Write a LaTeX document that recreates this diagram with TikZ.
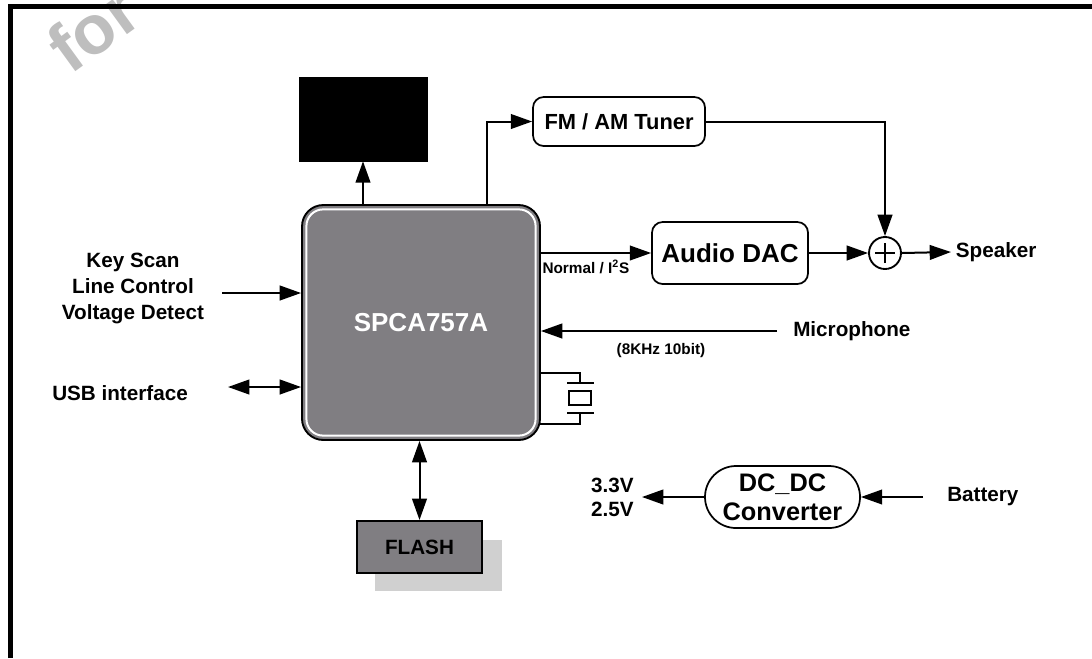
\documentclass[tikz,border=0pt]{standalone}
\usepackage{fontspec}
\setmainfont{Liberation Sans}
\usetikzlibrary{arrows.meta,shapes.misc,shapes.geometric}
\definecolor{chipgray}{RGB}{128,126,130}
\definecolor{shadowgray}{RGB}{208,208,208}
\definecolor{wmgray}{RGB}{190,190,190}
\begin{document}
\begin{tikzpicture}[x=0.75pt,y=-0.75pt,
  tip/.tip={Triangle[length=16pt,width=11pt]},
  arr/.style={line width=1.5pt,-tip},
  darr/.style={line width=1.5pt,tip-tip},
  lbl/.style={font=\bfseries\fontsize{15.5}{19.5}\selectfont, inner sep=0pt},
  small/.style={font=\bfseries\fontsize{11.5}{13}\selectfont, inner sep=0pt},
  rbox/.style={draw, line width=1.3pt, rounded corners=8pt, fill=white}
]
\useasboundingbox (0,0) rectangle (1092,658);
\clip (0,0) rectangle (1092,658);

% watermark
\node[rotate=36, anchor=base west, text=wmgray, inner sep=0pt,
      font=\bfseries\fontsize{52}{52}\selectfont] (wm) at (70,76) {for};

% frame
\draw[line width=3.2pt] (10.5,658) -- (10.5,6.5) -- (1092,6.5);

% display (black box)
\node[fill=black, draw=black, minimum width=96pt, minimum height=63pt, inner sep=0pt] (disp) at (363,119) {};

% chip
\node[draw=black, line width=1.4pt, fill=chipgray, rounded corners=16pt,
      minimum width=178.5pt, minimum height=176.25pt, text=white,
      font=\bfseries\fontsize{19.5}{22}\selectfont] (chip) at (421,322.5) {SPCA757A};
\draw[white, line width=1.5pt, rounded corners=12.5pt]
  ([xshift=4pt,yshift=-4pt]chip.north west) rectangle ([xshift=-4pt,yshift=4pt]chip.south east);

% tuner
\node[rbox, minimum width=129pt, minimum height=36.75pt,
      font=\bfseries\fontsize{16.4}{19}\selectfont] (tuner) at (619,121.5) {FM / AM Tuner};

% audio DAC
\node[rbox, minimum width=117pt, minimum height=46.5pt,
      font=\bfseries\fontsize{19.5}{22}\selectfont] (dac) at (730,253) {Audio DAC};

% summing junction
\node[circle, draw, line width=1.4pt, minimum size=24pt, inner sep=0pt] (sum) at (885,253) {};
\draw[line width=1.3pt] ([xshift=-7.5pt]sum.center) -- ([xshift=7.5pt]sum.center)
                        ([yshift=-7.5pt]sum.center) -- ([yshift=7.5pt]sum.center);

% speaker
\node[lbl, anchor=west, inner xsep=3.5pt] (spk) at (951,252) {Speaker};

% microphone
\node[lbl, anchor=west, inner xsep=12pt] (mic) at (777,331) {Microphone};
\node[small] (micnote) at (661,351) {(8KHz 10bit)};

% key scan
\node[lbl, align=center] (keys) at (133,288) {Key Scan\\Line Control\\Voltage Detect};
\coordinate (keysA) at (222,293);

% USB
\node[lbl, anchor=west] (usb) at (52,393) {USB interface};
\coordinate (usbA) at (228,387);

% flash
\node[fill=shadowgray, minimum width=95.25pt, minimum height=38.25pt, inner sep=0pt] (flashsh) at (438.5,565.5) {};
\node[draw=black, line width=1.5pt, fill=chipgray, minimum width=93.75pt, minimum height=39pt,
      font=\fontsize{15.5}{18}\selectfont\bfseries] (flash) at (419.5,547) {FLASH};

% DC-DC
\node[rounded rectangle, draw, line width=1.3pt, minimum width=116.25pt, minimum height=46.5pt,
      align=center, inner sep=0pt, font=\bfseries\fontsize{19}{22}\selectfont] (dcdc) at (782.5,497) {DC\_DC\\Converter};
\node[lbl, anchor=west] (bat) at (947,497) {Battery};
\coordinate (batA) at (923,497);
\node[lbl, anchor=east, align=left, font=\bfseries\fontsize{15.5}{18}\selectfont] (vout) at (634,497) {3.3V\\2.5V};
\coordinate (voutA) at (642,497);

% connectors
\draw[arr] (disp.south |- chip.north) -- (disp.south);
\draw[arr] (487,0 |- chip.north) |- (tuner.west);
\draw[arr] (tuner.east) -| (sum.north);
\draw[arr] (chip.east |- dac.west) -- (dac.west);
\node[font=\bfseries\fontsize{11.5}{13}\selectfont, inner sep=0pt, anchor=north west] (i2s)
  at ([xshift=1pt,yshift=-5pt]chip.east |- dac.west) {Normal / I\textsuperscript{2}S};
\draw[arr] (dac.east) -- (sum.west);
\draw[arr] (sum.east) -- (spk.west);
\draw[arr] (mic.west) -- (chip.east |- mic.west);
\draw[arr] (keysA) -- (chip.west |- keysA);
\draw[darr] (usbA) -- (chip.west |- usbA);
\draw[darr] (flash.north |- chip.south) -- (flash.north);
\draw[arr] (batA) -- (dcdc.east);
\draw[arr] (dcdc.west) -- (voutA);

% crystal
\coordinate (xtA) at (540,373);
\coordinate (xtB) at (540,424);
\draw[line width=1.3pt] (xtA) -- (580,373) -- (580,383);
\draw[line width=1.3pt] (567,383) -- (594,383);
\draw[line width=1.3pt] (569,391) rectangle (591,405);
\draw[line width=1.3pt] (567,413) -- (594,413);
\draw[line width=1.3pt] (580,413) -- (580,424) -- (xtB);
\end{tikzpicture}
\end{document}
